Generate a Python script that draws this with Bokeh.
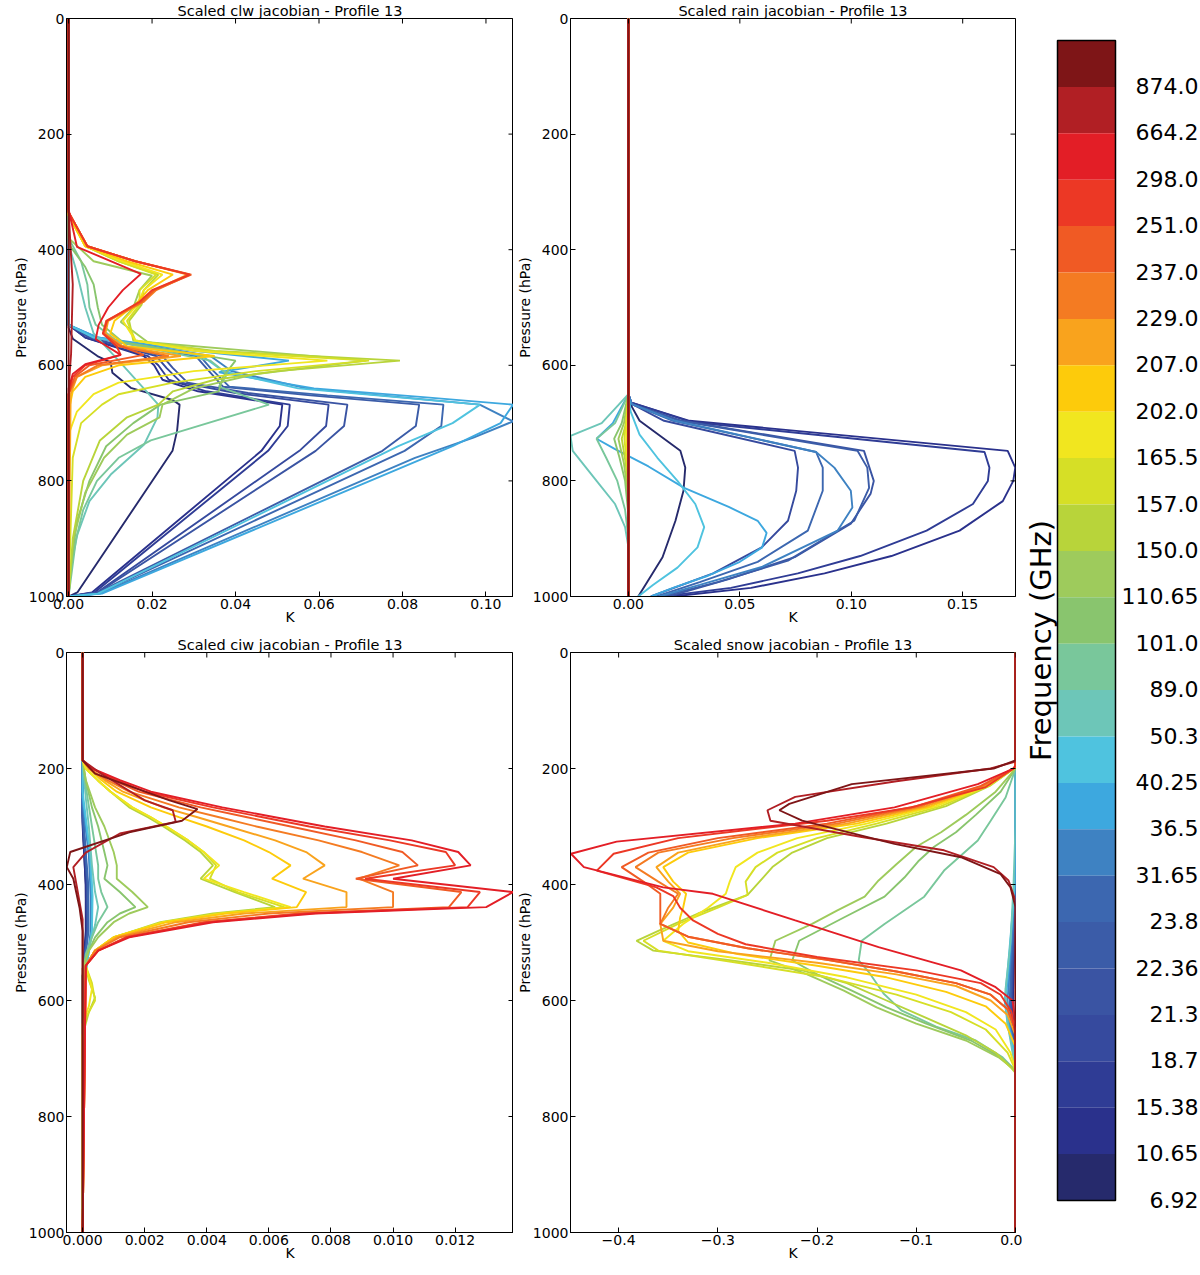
import math
from bokeh.plotting import figure
from bokeh.models import (Range1d, FixedTicker, PrintfTickFormatter, CustomJSTickFormatter,
                          ColumnDataSource)
from bokeh.layouts import row, column
from bokeh.embed import file_html
from bokeh.resources import INLINE
from bokeh.core.properties import value

FONT = "DejaVu Sans"

# ---------------- frequencies & colours (ascending) ----------------
FREQS = ["6.92", "10.65", "15.38", "18.7", "21.3", "22.36", "23.8", "31.65", "36.5", "40.25",
         "50.3", "89.0", "101.0", "110.65", "150.0", "157.0", "165.5", "202.0", "207.0",
         "229.0", "237.0", "251.0", "298.0", "664.2", "874.0"]
COLORS = ["#262a6c", "#2a318c", "#2f3c95", "#364a9e", "#3a54a3", "#3b5ca8", "#3c67b0", "#3e82c2",
          "#3da8df", "#4fc3df", "#6dc6b8", "#79c79b", "#89c56e", "#9ecb5c", "#b8d43a", "#d6df26",
          "#f1e61f", "#fdcb0b", "#f9a31d", "#f47b22", "#f05a24", "#ec3825", "#e31e26", "#b11f24",
          "#7e1517"]

ZERO = [(0, 0), (1000, 0)]
P_TICKS = [0, 200, 400, 600, 800, 1000]

# ---------------- clw jacobian: (pressure hPa, K) ----------------
CLW = {
    "6.92": [(0, 0), (535, 0), (554, 0.001), (584, 0.0069), (595, 0.0101), (613, 0.0105), (639, 0.0149),
             (660, 0.0249), (668, 0.0266), (713, 0.026), (748, 0.0249), (993, 0.0021), (1000, 0)],
    "10.65": [(0, 0), (530, 0), (552, 0.004), (584, 0.018), (600, 0.0205), (625, 0.0225), (645, 0.031),
              (668, 0.0512), (705, 0.0506), (748, 0.0462), (993, 0.0056), (1000, 0)],
    "15.38": [(0, 0), (530, 0), (552, 0.004), (584, 0.019), (600, 0.0215), (625, 0.024), (645, 0.033),
              (668, 0.053), (705, 0.0525), (748, 0.0478), (993, 0.0062), (1000, 0)],
    "18.7": [(0, 0), (530, 0), (552, 0.005), (584, 0.021), (605, 0.0235), (630, 0.027), (648, 0.04),
             (668, 0.0623), (705, 0.0617), (748, 0.0553), (993, 0.0068), (1000, 0)],
    "21.3": [(0, 0), (530, 0), (552, 0.005), (584, 0.0225), (605, 0.025), (630, 0.0285), (648, 0.043),
             (668, 0.0668), (705, 0.066), (748, 0.0592), (993, 0.007), (1000, 0)],
    "22.36": [(0, 0), (530, 0), (552, 0.006), (584, 0.0305), (605, 0.033), (637, 0.037), (652, 0.058),
              (668, 0.084), (705, 0.0832), (748, 0.0752), (995, 0.0065), (1000, 0)],
    "23.8": [(0, 0), (530, 0), (552, 0.006), (584, 0.0315), (605, 0.034), (637, 0.0385), (652, 0.062),
             (668, 0.0898), (705, 0.0893), (748, 0.0805), (995, 0.007), (1000, 0)],
    "31.65": [(0, 0), (530, 0), (552, 0.007), (584, 0.034), (610, 0.039), (640, 0.057), (668, 0.0985),
              (697, 0.1065), (725, 0.097), (760, 0.083), (995, 0.0075), (1000, 0)],
    "36.5": [(0, 0), (530, 0), (552, 0.007), (575, 0.03), (592, 0.0528), (612, 0.036), (640, 0.0588),
             (655, 0.085), (668, 0.1065), (700, 0.1035), (740, 0.092), (995, 0.008), (1000, 0)],
    "40.25": [(0, 0), (530, 0), (552, 0.006), (584, 0.032), (610, 0.037), (640, 0.055), (668, 0.0986),
              (700, 0.092), (740, 0.079), (995, 0.007), (1000, 0)],
    "50.3": [(0, 0), (390, 0), (440, 0.002), (500, 0.004), (545, 0.006), (592, 0.012), (640, 0.018),
             (668, 0.0215), (690, 0.0213), (737, 0.0181), (789, 0.0101), (835, 0.005), (893, 0.0021),
             (950, 0.0005), (1000, 0)],
    "89.0": [(0, 0), (380, 0), (420, 0.003), (460, 0.0045), (500, 0.005), (530, 0.0065), (560, 0.012),
             (592, 0.034), (615, 0.038), (637, 0.036), (668, 0.048), (730, 0.0197), (760, 0.012),
             (800, 0.0068), (850, 0.0035), (900, 0.0018), (1000, 0)],
    "101.0": [(0, 0), (390, 0), (430, 0.004), (460, 0.006), (500, 0.007), (530, 0.008), (560, 0.013),
              (592, 0.04), (620, 0.037), (645, 0.036), (668, 0.022), (700, 0.0155), (740, 0.009),
              (800, 0.005), (870, 0.002), (950, 0.0005), (1000, 0)],
    "110.65": [(0, 0), (380, 0), (420, 0.006), (445, 0.02), (470, 0.017), (500, 0.0155), (525, 0.0125),
               (560, 0.019), (592, 0.0713), (615, 0.045), (640, 0.03), (668, 0.0225), (690, 0.0218),
               (720, 0.014), (760, 0.0085), (820, 0.004), (900, 0.0012), (1000, 0)],
    "150.0": [(0, 0), (340, 0), (394, 0.004), (420, 0.012), (443, 0.0215), (470, 0.018), (495, 0.0175),
              (523, 0.0145), (557, 0.0155), (575, 0.035), (592, 0.0794), (610, 0.05), (625, 0.035),
              (645, 0.025), (668, 0.0215), (690, 0.014), (730, 0.0075), (800, 0.0035), (900, 0.001),
              (1000, 0)],
    "157.0": [(0, 0), (340, 0), (394, 0.004), (420, 0.012), (443, 0.021), (470, 0.017), (495, 0.017),
              (523, 0.014), (557, 0.016), (575, 0.033), (592, 0.072), (610, 0.045), (630, 0.025),
              (650, 0.012), (668, 0.008), (700, 0.003), (760, 0.001), (1000, 0)],
    "165.5": [(0, 0), (340, 0), (394, 0.004), (420, 0.013), (443, 0.0225), (470, 0.018), (495, 0.0165),
              (523, 0.013), (557, 0.016), (575, 0.03), (592, 0.062), (610, 0.03), (630, 0.012),
              (650, 0.006), (680, 0.002), (720, 0), (1000, 0)],
    "202.0": [(0, 0), (340, 0), (394, 0.004), (420, 0.014), (443, 0.025), (470, 0.019), (495, 0.016),
              (523, 0.011), (545, 0.01), (567, 0.014), (584, 0.035), (600, 0.012), (620, 0.004),
              (645, 0.001), (680, 0), (1000, 0)],
    "207.0": [(0, 0), (335, 0), (394, 0.0045), (420, 0.016), (443, 0.0285), (470, 0.0205), (490, 0.018),
              (523, 0.0095), (545, 0.0088), (567, 0.013), (584, 0.0269), (600, 0.008), (620, 0.002),
              (650, 0.0005), (1000, 0)],
    "229.0": [(0, 0), (335, 0), (394, 0.0045), (420, 0.016), (443, 0.029), (470, 0.021), (490, 0.018),
              (523, 0.0093), (545, 0.0085), (567, 0.012), (584, 0.024), (600, 0.007), (620, 0.002),
              (650, 0), (1000, 0)],
    "237.0": [(0, 0), (335, 0), (394, 0.0045), (420, 0.016), (443, 0.0294), (470, 0.0205), (490, 0.0175),
              (523, 0.009), (545, 0.0083), (567, 0.0125), (582, 0.018), (600, 0.005), (620, 0.0015),
              (650, 0), (1000, 0)],
    "251.0": [(0, 0), (335, 0), (394, 0.0045), (420, 0.016), (443, 0.029), (470, 0.02), (490, 0.017),
              (523, 0.0092), (545, 0.0082), (567, 0.0115), (582, 0.0125), (600, 0.004), (620, 0.001),
              (650, 0), (1000, 0)],
    "298.0": [(0, 0), (330, 0), (395, 0.002), (442, 0.0173), (470, 0.013), (500, 0.0095), (530, 0.0072),
              (555, 0.0065), (582, 0.0125), (598, 0.004), (615, 0.001), (640, 0), (1000, 0)],
    "664.2": [(0, 0), (330, 0), (400, 0.0005), (460, 0.001), (520, 0.0008), (580, 0.0006), (620, 0.0002),
              (680, 0), (1000, 0)],
}

# ---------------- rain jacobian ----------------
RAIN = {
    "6.92": [(0, 0), (650, 0), (668, 0.001), (696, 0.005), (748, 0.0233), (777, 0.0255), (817, 0.0247),
             (869, 0.0211), (932, 0.0153), (1000, 0.0044)],
    "10.65": [(0, 0), (650, 0), (664, 0.001), (696, 0.0274), (748, 0.1702), (777, 0.1736), (800, 0.1727),
              (835, 0.168), (886, 0.1486), (930, 0.118), (960, 0.088), (985, 0.055), (1000, 0.02)],
    "15.38": [(0, 0), (650, 0), (664, 0.001), (698, 0.028), (750, 0.1598), (777, 0.162), (800, 0.1613),
              (840, 0.1546), (886, 0.1338), (930, 0.104), (960, 0.076), (985, 0.046), (1000, 0.0155)],
    "18.7": [(0, 0), (650, 0), (667, 0.0015), (696, 0.016), (748, 0.0746), (777, 0.0761), (817, 0.0753),
             (869, 0.0716), (915, 0.0598), (960, 0.038), (1000, 0.01)],
    "21.3": [(0, 0), (650, 0), (667, 0.0015), (696, 0.024), (748, 0.1057), (800, 0.1101), (822, 0.1087),
             (874, 0.0998), (932, 0.0746), (970, 0.045), (1000, 0.018)],
    "22.36": [(0, 0), (650, 0), (667, 0.0015), (696, 0.023), (748, 0.1028), (777, 0.1072), (812, 0.108),
              (869, 0.1013), (938, 0.0716), (975, 0.04), (1000, 0.015)],
    "23.8": [(0, 0), (650, 0), (667, 0.0015), (696, 0.02), (750, 0.0842), (777, 0.0872), (817, 0.0872),
             (886, 0.0805), (940, 0.058), (975, 0.032), (1000, 0.0125)],
    "31.65": [(0, 0), (650, 0), (667, 0.0015), (696, 0.021), (750, 0.0842), (777, 0.0924), (817, 0.0998),
              (846, 0.1005), (886, 0.0939), (949, 0.0598), (980, 0.032), (1000, 0.0138)],
    "36.5": [(0, 0), (650, 0), (700, -0.007), (727, -0.0143), (745, -0.006), (775, 0.009), (812, 0.025),
             (845, 0.045), (869, 0.058), (890, 0.062), (915, 0.06), (940, 0.05), (965, 0.035),
             (985, 0.02), (1000, 0.0102)],
    "40.25": [(0, 0), (650, 0), (680, 0.001), (720, 0.005), (760, 0.013), (800, 0.022), (840, 0.03),
              (880, 0.034), (915, 0.031), (950, 0.022), (980, 0.011), (1000, 0.0044)],
    "50.3": [(0, 0), (650, 0), (700, -0.012), (722, -0.026), (748, -0.025), (800, -0.0143), (840, -0.006),
             (880, -0.0015), (915, 0), (1000, 0)],
    "89.0": [(0, 0), (650, 0), (700, -0.006), (727, -0.0143), (760, -0.01), (800, -0.005), (850, -0.0015),
             (900, 0), (1000, 0)],
    "101.0": [(0, 0), (650, 0), (700, -0.003), (727, -0.0064), (760, -0.004), (800, -0.0015), (860, 0),
              (1000, 0)],
    "110.65": [(0, 0), (650, 0), (700, -0.002), (727, -0.0045), (770, -0.002), (830, 0), (1000, 0)],
    "150.0": [(0, 0), (650, 0), (700, -0.001), (727, -0.003), (770, -0.0012), (820, 0), (1000, 0)],
    "157.0": [(0, 0), (650, 0), (727, -0.0018), (800, 0), (1000, 0)],
    "165.5": [(0, 0), (650, 0), (727, -0.001), (790, 0), (1000, 0)],
}

# ---------------- ciw jacobian ----------------
CIW = {
    "6.92": [(0, 0), (300, 0), (400, 0.0001), (480, 0.0001), (560, 0), (1000, 0)],
    "10.65": [(0, 0), (290, 0), (400, 0.0001), (480, 0.00012), (560, 0), (1000, 0)],
    "15.38": [(0, 0), (290, 0), (400, 0.00012), (480, 0.00013), (560, 0), (1000, 0)],
    "18.7": [(0, 0), (280, 0), (400, 0.00014), (480, 0.00015), (560, 0), (1000, 0)],
    "21.3": [(0, 0), (280, 0), (400, 0.00015), (480, 0.00016), (560, 0), (1000, 0)],
    "22.36": [(0, 0), (280, 0), (400, 0.00016), (480, 0.00017), (560, 0), (1000, 0)],
    "23.8": [(0, 0), (270, 0), (400, 0.00018), (480, 0.00019), (560, 0), (1000, 0)],
    "31.65": [(0, 0), (260, 0), (350, 0.0002), (420, 0.00026), (480, 0.00026), (550, 0.0001), (600, 0),
              (1000, 0)],
    "36.5": [(0, 0), (250, 0), (350, 0.00024), (420, 0.0003), (480, 0.0003), (550, 0.0001), (600, 0),
             (1000, 0)],
    "40.25": [(0, 0), (240, 0), (350, 0.00025), (420, 0.00032), (480, 0.0003), (550, 0.0001), (600, 0),
              (1000, 0)],
    "50.3": [(0, 0), (186, 0), (250, 0.0001), (300, 0.0002), (367, 0.0003), (413, 0.0004), (439, 0.0005),
             (470, 0.0004), (510, 0.0002), (560, 0), (1000, 0)],
    "89.0": [(0, 0), (186, 0), (230, 0.0001), (300, 0.0003), (367, 0.0005), (390, 0.0005), (413, 0.0006),
             (439, 0.0008), (465, 0.0005), (491, 0.0003), (520, 0.0001), (560, 0), (1000, 0)],
    "101.0": [(0, 0), (186, 0), (220, 0.0001), (267, 0.0003), (300, 0.0005), (344, 0.0007), (367, 0.0008),
              (390, 0.0007), (413, 0.0012), (439, 0.0017), (450, 0.0012), (465, 0.0008), (491, 0.0004),
              (514, 0.0002), (545, 0), (1000, 0)],
    "110.65": [(0, 0), (186, 0), (220, 0.0001), (267, 0.0004), (300, 0.0007), (344, 0.001), (367, 0.0011),
               (390, 0.0011), (413, 0.0016), (439, 0.0021), (450, 0.0015), (465, 0.001), (491, 0.0005),
               (514, 0.0002), (545, 0), (1000, 0)],
    "150.0": [(0, 0), (186, 0), (200, 0.0001), (221, 0.0005), (240, 0.0009), (267, 0.0015), (284, 0.0021),
              (300, 0.0026), (324, 0.0033), (344, 0.0038), (367, 0.0042), (390, 0.0038), (413, 0.0049),
              (439, 0.0062), (450, 0.0042), (465, 0.0025), (491, 0.001), (514, 0.0004), (540, 0.0001),
              (565, 0.0002), (595, 0.0004), (620, 0.0002), (660, 0), (1000, 0)],
    "157.0": [(0, 0), (186, 0), (200, 0.0001), (221, 0.0005), (240, 0.0009), (267, 0.0016), (284, 0.0022),
              (300, 0.0027), (324, 0.0034), (344, 0.0039), (367, 0.0043), (390, 0.0041), (413, 0.005),
              (439, 0.0065), (450, 0.0044), (465, 0.0026), (491, 0.001), (514, 0.0004), (540, 0.0001),
              (570, 0.0003), (600, 0.0004), (630, 0.0001), (660, 0), (1000, 0)],
    "165.5": [(0, 0), (186, 0), (200, 0.0001), (221, 0.0005), (240, 0.0009), (267, 0.0016), (284, 0.0022),
              (300, 0.0027), (324, 0.0034), (344, 0.0039), (367, 0.0044), (390, 0.0039), (413, 0.0052),
              (434, 0.0064), (439, 0.0067), (450, 0.0045), (465, 0.0026), (491, 0.001), (514, 0.0004),
              (540, 0.0001), (580, 0.0003), (610, 0.0002), (640, 0), (1000, 0)],
    "202.0": [(0, 0), (186, 0), (200, 0.0002), (220, 0.0006), (240, 0.0011), (267, 0.0022), (284, 0.0031),
              (300, 0.004), (324, 0.0052), (344, 0.006), (367, 0.0067), (390, 0.0061), (413, 0.0072),
              (439, 0.0069), (450, 0.0046), (465, 0.0027), (491, 0.001), (514, 0.0004), (540, 0.0001),
              (1000, 0)],
    "207.0": [(0, 0), (186, 0), (200, 0.0002), (220, 0.0007), (240, 0.0013), (267, 0.0026), (284, 0.0037),
              (300, 0.0047), (324, 0.0062), (344, 0.0072), (367, 0.0078), (390, 0.0071), (413, 0.0085),
              (439, 0.0085), (450, 0.0052), (465, 0.003), (491, 0.0011), (514, 0.0004), (540, 0.0001),
              (1000, 0)],
    "229.0": [(0, 0), (186, 0), (200, 0.0002), (220, 0.0008), (240, 0.0015), (267, 0.0031), (284, 0.0044),
              (300, 0.0056), (324, 0.0076), (344, 0.009), (367, 0.0102), (390, 0.0089), (413, 0.01),
              (439, 0.01), (450, 0.006), (465, 0.0034), (491, 0.0012), (514, 0.0004), (540, 0.0001),
              (1000, 0)],
    "237.0": [(0, 0), (186, 0), (200, 0.0003), (220, 0.001), (240, 0.0018), (267, 0.0038), (284, 0.0053),
              (300, 0.0067), (324, 0.0088), (344, 0.0103), (367, 0.0108), (390, 0.0088), (413, 0.0122),
              (439, 0.0118), (450, 0.007), (465, 0.0039), (491, 0.0014), (514, 0.0005), (540, 0.0001),
              (1000, 0)],
    "251.0": [(0, 0), (186, 0), (200, 0.0003), (220, 0.0011), (240, 0.002), (267, 0.0042), (284, 0.0058),
              (300, 0.0073), (324, 0.0099), (344, 0.0117), (367, 0.012), (390, 0.0091), (413, 0.0128),
              (439, 0.0124), (450, 0.0072), (465, 0.004), (491, 0.0014), (514, 0.0005), (540, 0.0001),
              (1000, 0)],
    "298.0": [(0, 0), (186, 0), (200, 0.0003), (220, 0.0012), (240, 0.0022), (267, 0.0045), (284, 0.0062),
              (300, 0.0078), (324, 0.0106), (344, 0.0121), (367, 0.0125), (390, 0.01), (413, 0.01387),
              (439, 0.013), (450, 0.0075), (465, 0.0042), (491, 0.0015), (514, 0.0005), (540, 0.0001),
              (1000, 0)],
    "664.2": [(0, 0), (186, 0), (209, 0.0006), (255, 0.002), (272, 0.0029), (292, 0.003), (312, 0.0012),
              (345, 0.0001), (370, -0.0003), (400, -0.0002), (460, 0), (1000, 0)],
    "874.0": [(0, 0), (186, 0), (209, 0.0004), (255, 0.0028), (270, 0.0037), (290, 0.0032), (310, 0.0015),
              (344, -0.0004), (370, -0.00051), (390, -0.0003), (440, -0.0001), (480, 0), (1000, 0)],
}

# ---------------- snow jacobian ----------------
SNOW = {
    "6.92": [(0, 0), (450, 0), (550, -0.002), (620, -0.003), (680, -0.001), (720, 0), (1000, 0)],
    "10.65": [(0, 0), (450, 0), (550, -0.002), (620, -0.003), (680, -0.001), (720, 0), (1000, 0)],
    "15.38": [(0, 0), (440, 0), (550, -0.003), (620, -0.004), (680, -0.0015), (720, 0), (1000, 0)],
    "18.7": [(0, 0), (440, 0), (550, -0.003), (620, -0.004), (680, -0.0015), (720, 0), (1000, 0)],
    "21.3": [(0, 0), (430, 0), (550, -0.004), (620, -0.005), (680, -0.002), (720, 0), (1000, 0)],
    "22.36": [(0, 0), (430, 0), (550, -0.004), (620, -0.005), (680, -0.002), (720, 0), (1000, 0)],
    "23.8": [(0, 0), (420, 0), (550, -0.005), (620, -0.006), (680, -0.002), (720, 0), (1000, 0)],
    "31.65": [(0, 0), (400, 0), (450, -0.002), (550, -0.006), (600, -0.008), (640, -0.006), (680, -0.002),
              (720, 0), (1000, 0)],
    "36.5": [(0, 0), (390, 0), (450, -0.003), (550, -0.007), (600, -0.01), (640, -0.007), (680, -0.002),
             (720, 0), (1000, 0)],
    "40.25": [(0, 0), (380, 0), (450, -0.003), (550, -0.008), (600, -0.011), (640, -0.008), (680, -0.003),
              (720, 0), (1000, 0)],
    "50.3": [(0, 0), (300, 0), (400, -0.002), (500, -0.005), (580, -0.01), (640, -0.008), (690, -0.003),
             (720, 0), (1000, 0)],
    "89.0": [(0, 0), (200, 0), (250, -0.01), (290, -0.025), (324, -0.038), (350, -0.055), (376, -0.072),
             (421, -0.092), (468, -0.132), (497, -0.155), (531, -0.158), (553, -0.147), (588, -0.133),
             (617, -0.115), (645, -0.08), (669, -0.04), (698, -0.013), (721, 0), (1000, 0)],
    "101.0": [(0, 0), (200, 0), (240, -0.015), (280, -0.04), (310, -0.06), (335, -0.082), (360, -0.098),
              (388, -0.112), (421, -0.132), (456, -0.172), (497, -0.218), (531, -0.225), (555, -0.2),
              (583, -0.165), (612, -0.13), (640, -0.09), (669, -0.045), (698, -0.015), (721, 0), (1000, 0)],
    "110.65": [(0, 0), (200, 0), (240, -0.02), (280, -0.05), (310, -0.075), (335, -0.1), (365, -0.12),
               (393, -0.138), (421, -0.152), (445, -0.18), (468, -0.205), (497, -0.242), (531, -0.248),
               (555, -0.21), (583, -0.173), (612, -0.14), (640, -0.1), (669, -0.05), (698, -0.017),
               (721, 0), (1000, 0)],
    "150.0": [(0, 0), (198, 0), (230, -0.026), (265, -0.07), (295, -0.13), (320, -0.19), (345, -0.225),
              (370, -0.245), (395, -0.258), (418, -0.27), (450, -0.32), (480, -0.36), (497, -0.382),
              (514, -0.365), (530, -0.29), (548, -0.215), (570, -0.17), (600, -0.13), (630, -0.09),
              (660, -0.05), (690, -0.02), (715, -0.005), (725, 0), (1000, 0)],
    "157.0": [(0, 0), (198, 0), (230, -0.027), (265, -0.075), (295, -0.14), (320, -0.2), (345, -0.24),
              (370, -0.262), (395, -0.272), (418, -0.27), (440, -0.3), (468, -0.34), (497, -0.375),
              (514, -0.36), (535, -0.28), (560, -0.19), (590, -0.12), (620, -0.065), (650, -0.03),
              (690, -0.008), (720, 0), (1000, 0)],
    "165.5": [(0, 0), (198, 0), (230, -0.028), (265, -0.08), (295, -0.15), (320, -0.22), (345, -0.26),
              (370, -0.282), (395, -0.288), (416, -0.292), (440, -0.31), (468, -0.335), (497, -0.355),
              (515, -0.33), (535, -0.25), (560, -0.17), (590, -0.1), (620, -0.05), (650, -0.02),
              (690, -0.005), (720, 0), (1000, 0)],
    "202.0": [(0, 0), (198, 0), (230, -0.03), (265, -0.085), (295, -0.16), (320, -0.26), (345, -0.33),
              (370, -0.355), (395, -0.345), (416, -0.332), (440, -0.335), (457, -0.338), (480, -0.34),
              (500, -0.33), (520, -0.28), (540, -0.2), (560, -0.13), (585, -0.07), (610, -0.03),
              (640, -0.01), (680, 0), (1000, 0)],
    "207.0": [(0, 0), (198, 0), (230, -0.03), (265, -0.09), (295, -0.17), (320, -0.27), (345, -0.34),
              (370, -0.362), (395, -0.35), (416, -0.338), (440, -0.345), (468, -0.358), (497, -0.355),
              (515, -0.3), (535, -0.2), (555, -0.12), (575, -0.06), (600, -0.025), (625, -0.008),
              (660, 0), (1000, 0)],
    "229.0": [(0, 0), (198, 0), (230, -0.033), (265, -0.095), (295, -0.18), (320, -0.285), (345, -0.36),
              (370, -0.383), (395, -0.36), (416, -0.34), (440, -0.35), (468, -0.358), (490, -0.33),
              (510, -0.27), (530, -0.19), (550, -0.12), (570, -0.06), (590, -0.025), (615, -0.008),
              (650, 0), (1000, 0)],
    "237.0": [(0, 0), (198, 0), (230, -0.035), (265, -0.1), (295, -0.19), (320, -0.3), (345, -0.37),
              (370, -0.397), (395, -0.375), (416, -0.358), (440, -0.358), (468, -0.358), (490, -0.33),
              (510, -0.27), (530, -0.19), (550, -0.12), (570, -0.06), (590, -0.025), (615, -0.008),
              (650, 0), (1000, 0)],
    "251.0": [(0, 0), (195, 0), (200, -0.002), (232, -0.03), (267, -0.105), (290, -0.19), (320, -0.34),
              (347, -0.405), (376, -0.422), (405, -0.362), (420, -0.345), (440, -0.338), (462, -0.325),
              (485, -0.3), (503, -0.272), (525, -0.2), (548, -0.1), (570, -0.035), (590, -0.015),
              (620, -0.004), (660, 0), (1000, 0)],
    "298.0": [(0, 0), (195, 0), (200, -0.002), (227, -0.038), (267, -0.122), (295, -0.222), (326, -0.402),
              (347, -0.448), (370, -0.435), (405, -0.355), (416, -0.305), (462, -0.222), (508, -0.138),
              (548, -0.055), (577, -0.02), (600, -0.003), (640, 0), (1000, 0)],
    "664.2": [(0, 0), (188, 0), (200, -0.025), (222, -0.12), (249, -0.222), (272, -0.25), (290, -0.247),
              (318, -0.155), (341, -0.072), (370, -0.022), (393, -0.007), (428, 0), (1000, 0)],
    "874.0": [(0, 0), (186, 0), (200, -0.022), (227, -0.165), (261, -0.228), (272, -0.238), (290, -0.215),
              (330, -0.122), (353, -0.055), (382, -0.015), (405, -0.005), (439, 0), (1000, 0)],
}

# ---------------- colour bar ----------------
CBAR_LABELS = ["874.0", "664.2", "298.0", "251.0", "237.0", "229.0", "207.0", "202.0", "165.5",
               "157.0", "150.0", "110.65", "101.0", "89.0", "50.3", "40.25", "36.5", "31.65", "23.8",
               "22.36", "21.3", "18.7", "15.38", "10.65", "6.92"]
CBAR_COLORS = list(reversed(COLORS))

# ---------------- panel specs ----------------
PANELS = {
    "clw": dict(title="Scaled clw jacobian - Profile 13", curves=CLW, xr=(-0.0005, 0.1066),
                ticks=[0.0, 0.02, 0.04, 0.06, 0.08, 0.10], fmt="%.2f"),
    "rain": dict(title="Scaled rain jacobian - Profile 13", curves=RAIN, xr=(-0.026, 0.1737),
                 ticks=[0.0, 0.05, 0.10, 0.15], fmt="%.2f"),
    "ciw": dict(title="Scaled ciw jacobian - Profile 13", curves=CIW, xr=(-0.00052, 0.01388),
                ticks=[0.0, 0.002, 0.004, 0.006, 0.008, 0.010, 0.012], fmt="%.3f"),
    "snow": dict(title="Scaled snow jacobian - Profile 13", curves=SNOW, xr=(-0.4485, 0.0),
                 ticks=[-0.4, -0.3, -0.2, -0.1, 0.0], fmt=None),
}


def make_panel(spec, width, height, bl, br, bt, bb):
    p = figure(width=width, height=height, x_range=Range1d(*spec["xr"]), y_range=Range1d(1000, 0),
               output_backend="svg", toolbar_location=None,
               min_border_left=bl, min_border_right=br, min_border_top=bt, min_border_bottom=bb,
               background_fill_color="white", border_fill_color="white")
    p.outline_line_color = "black"
    p.outline_line_width = 1
    p.grid.visible = False

    p.title.text = spec["title"]
    p.title.align = "center"
    p.title.text_font = FONT
    p.title.text_font_size = "14.5px"
    p.title.text_font_style = "normal"
    p.title.text_color = "black"
    p.title.standoff = 0
    p.title.offset = 0

    for ax in (p.xaxis[0], p.yaxis[0]):
        ax.major_tick_in = 5
        ax.major_tick_out = 0
        ax.minor_tick_in = 0
        ax.minor_tick_out = 0
        ax.axis_line_color = "black"
        ax.major_tick_line_color = "black"
        ax.major_label_text_font = FONT
        ax.major_label_text_font_size = "14px"
        ax.major_label_text_color = "black"
        ax.axis_label_text_font = FONT
        ax.axis_label_text_font_size = "14px"
        ax.axis_label_text_font_style = "normal"
        ax.axis_label_text_color = "black"
        ax.major_label_standoff = 2
        ax.axis_label_standoff = -3

    p.xaxis.ticker = FixedTicker(ticks=spec["ticks"])
    if spec["fmt"]:
        p.xaxis.formatter = PrintfTickFormatter(format=spec["fmt"])
    else:
        p.xaxis.formatter = CustomJSTickFormatter(
            code="return Math.abs(tick) < 1e-9 ? '0.0' : tick.toFixed(1).replace('-', '\u2212');")
    p.xaxis.axis_label = "K"
    p.yaxis.ticker = FixedTicker(ticks=P_TICKS)
    p.yaxis.axis_label = "Pressure (hPa)"

    # curves, one per frequency
    for f, c in zip(FREQS, COLORS):
        pts = spec["curves"].get(f, ZERO)
        src = ColumnDataSource(dict(k=[v for _, v in pts], pr=[q for q, _ in pts]))
        p.line("k", "pr", source=src, line_color=c, line_width=1.9)

    # mirrored inward ticks on top and right edges (matplotlib classic style)
    x0, x1 = spec["xr"]
    p.scatter(x=spec["ticks"], y=[0] * len(spec["ticks"]), marker="dash", angle=math.pi / 2,
              size=10, line_color="black", line_width=1)
    p.scatter(x=[x1] * len(P_TICKS), y=P_TICKS, marker="dash", size=10, line_color="black", line_width=1)
    return p


LEFT_W, RIGHT_W = 513, 509
TOP_H, BOT_H = 632, 643

p1 = make_panel(PANELS["clw"], LEFT_W, TOP_H, 66, 0, 17, 36)
p2 = make_panel(PANELS["rain"], RIGHT_W, TOP_H, 54, 7, 17, 36)
p3 = make_panel(PANELS["ciw"], LEFT_W, BOT_H, 66, 0, 20, 43)
p4 = make_panel(PANELS["snow"], RIGHT_W, BOT_H, 54, 7, 20, 43)

# colour bar drawn in page pixel coordinates
CB_X0, CB_X1 = LEFT_W + RIGHT_W, 1200
CB_TOP, CB_BOT = 40, 1200
cb = figure(width=CB_X1 - CB_X0, height=TOP_H + BOT_H, x_range=Range1d(CB_X0, CB_X1),
            y_range=Range1d(TOP_H + BOT_H, 0), output_backend="svg", toolbar_location=None,
            x_axis_type=None, y_axis_type=None, min_border=0,
            background_fill_color="white", border_fill_color="white")
cb.outline_line_color = None
cb.grid.visible = False
n = len(CBAR_LABELS)
seg = (CB_BOT - CB_TOP) / n
tops = [CB_TOP + i * seg for i in range(n)]
bots = [CB_TOP + (i + 1) * seg for i in range(n)]
cb.quad(left=1057, right=1115, top=tops, bottom=bots, fill_color=CBAR_COLORS, line_color=None)
cb.quad(left=[1057], right=[1115], top=[CB_TOP], bottom=[CB_BOT], fill_color=None,
        line_color="black", line_width=1.5)
cb.text(x=[1198] * n, y=[b - 1 for b in bots], text=CBAR_LABELS, text_align="right",
        text_baseline="middle", text_font=value(FONT), text_font_size="22px", text_color="black")
cb.text(x=[1040], y=[640], text=["Frequency (GHz)"], angle=math.pi / 2, text_align="center",
        text_baseline="middle", text_font=value(FONT), text_font_size="29px", text_color="black")

layout = row(column(p1, p3, spacing=0), column(p2, p4, spacing=0), cb, spacing=0)

with open("out.html", "w") as fh:
    fh.write(file_html(layout, INLINE, title="Scaled jacobians - Profile 13"))
